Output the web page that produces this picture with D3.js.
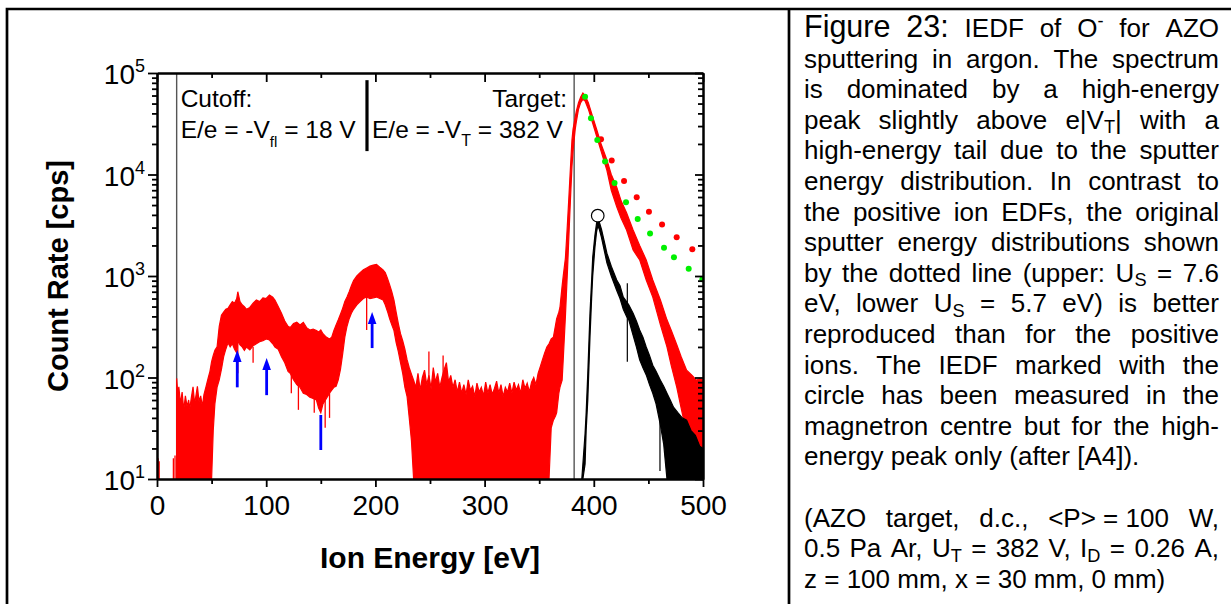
<!DOCTYPE html>
<html>
<head>
<meta charset="utf-8">
<script src="https://cdn.jsdelivr.net/npm/d3@7"></script>
<style>
  body { margin: 0; background: #fff; }
  svg { display: block; font-family: "Liberation Sans", Arial, sans-serif; }
  text { white-space: pre; }
</style>
</head>
<body>
<div id="viz"></div>
<script>

// ---- data ----
const xTicks = [0, 100, 200, 300, 400, 500];
const xMinor = [50, 150, 250, 350, 450];
const yDecades = [1e1, 1e2, 1e3, 1e4, 1e5];
const yExp = ["1", "2", "3", "4", "5"];

const cutoffE = 18;
const targetE = 382;

// red IEDF (O- in argon): energy [eV], lower and upper edge of the noisy band [cps]
const redE = [18, 19, 20, 21.5, 23, 24.5, 26, 27.5, 29, 30, 31.5, 33, 34.5, 36, 37, 38.5, 40, 41.5, 43, 45, 47, 48.5, 50,
  51.5, 53, 55, 57, 59, 61, 63, 65, 67, 69, 71, 73, 74, 76, 78, 80, 82, 85, 88, 91, 94, 97, 100, 103, 106, 108, 111, 114,
  117, 120, 122, 125, 128, 131, 134, 137, 140, 143, 146, 148, 150, 152, 155, 158, 160, 162, 164, 166, 168, 170, 172, 174,
  176, 178, 180, 183, 186, 189, 192, 195, 198, 201, 204, 207, 209, 211, 213, 215, 217, 219, 221, 223, 225, 227, 229, 231,
  233, 235, 237, 239, 241, 243, 245, 247, 249, 251, 253, 255, 257, 259, 261, 263, 265, 267, 269, 271, 273, 275, 277, 279,
  281, 283, 285, 287, 289, 291, 293, 295, 297, 299, 301, 303, 305, 307, 309, 311, 313, 315, 317, 319, 321, 323, 325, 327,
  329, 331, 333, 335, 337, 339, 341, 343, 345, 347, 349, 351, 353, 355, 357, 359, 361, 363, 365, 366, 368, 369, 371, 372,
  374, 375, 376, 377, 378, 379, 380, 381, 382, 383, 384, 386, 388, 390, 392, 395, 399, 403, 407, 412, 416, 421, 425, 430,
  436, 442, 448, 454, 461, 467, 471, 476, 480, 485, 490, 494, 497, 500];
const redLo = [10, 10, 10, 10, 10, 10, 10, 10, 10, 10, 10, 10, 10, 10, 10, 10, 10, 10, 10, 10, 10, 10, 10,
  30, 55, 80, 95, 120, 160, 190, 220, 200, 215, 190, 175, 230, 210, 200, 185, 200, 187, 205, 215, 225, 230, 240, 234, 215, 200, 190, 160,
  140, 115, 110, 95, 85, 80, 70, 68, 64, 62, 60, 50, 45, 55, 62, 70, 75, 80, 82, 95, 120, 170, 250, 320,
  380, 430, 470, 520, 560, 600, 620, 600, 610, 620, 600, 580, 520, 450, 380, 330, 290, 220, 180, 140, 110, 80, 65, 40,
  24, 10, 10, 10, 10, 10, 10, 10, 10, 10, 10, 10, 10, 10, 10, 10, 10, 10, 10, 10, 10, 10, 10, 10,
  10, 10, 10, 10, 10, 10, 10, 10, 10, 10, 10, 10, 10, 10, 10, 10, 10, 10, 10, 10, 10, 10, 10, 10,
  10, 10, 10, 10, 10, 10, 10, 10, 10, 10, 10, 10, 10, 10, 10, 10, 32, 38, 42, 45, 70, 80, 94, 150,
  400, 700, 1200, 2200, 4000, 7000, 12000, 17000, 22000, 28000, 33000, 44000, 51000, 55000, 53000, 44000, 32000, 23000, 16500, 11000, 7000, 4800, 3700, 2840,
  1800, 1440, 914, 620, 330, 200, 130, 80, 50, 28, 18, 14, 10, 10];
const redHi = [98, 70, 81, 55, 72, 48, 66, 52, 60, 49, 64, 81, 55, 70, 82, 58, 66, 52, 68, 82, 100, 115, 143,
  165, 185, 200, 320, 410, 440, 470, 480, 520, 560, 540, 600, 700, 560, 520, 500, 470, 490, 540, 580, 560, 610, 600, 650, 620, 580, 500, 430,
  360, 320, 310, 340, 350, 330, 350, 310, 294, 300, 290, 280, 294, 270, 250, 240, 250, 290, 330, 370, 420, 480, 560, 620,
  700, 800, 900, 1000, 1080, 1150, 1200, 1250, 1280, 1300, 1220, 1150, 1080, 950, 820, 700, 580, 440, 340, 270, 230, 190, 150, 125,
  108, 94, 80, 110, 75, 100, 118, 85, 105, 78, 125, 90, 110, 80, 100, 120, 140, 90, 105, 80, 95, 72, 90, 70,
  85, 68, 95, 75, 82, 65, 88, 72, 80, 66, 90, 70, 85, 68, 78, 92, 70, 85, 65, 80, 72, 88, 70, 90,
  75, 85, 70, 95, 78, 88, 72, 90, 100, 85, 110, 128, 150, 175, 200, 215, 240, 250, 330, 380, 440, 490, 800, 1000,
  1500, 2260, 3500, 5500, 8800, 14000, 21900, 28000, 32000, 37000, 42000, 51000, 58000, 63500, 60000, 51000, 37000, 27000, 19500, 13900, 10000, 7500, 5500, 4200,
  2840, 2000, 1440, 914, 580, 370, 290, 210, 160, 118, 105, 94, 98, 94];
// isolated red spikes: energy, from, to [cps]
const redSpikeE = [1, 2, 15, 16.5, 74, 88, 123, 129.5, 144, 154, 158, 192, 249, 262];
const redSpikeLo = [10, 10, 10, 10, 110, 140, 70, 48, 45, 32, 40, 294, 10, 10];
const redSpikeHi = [16, 15, 16, 17, 250, 200, 120, 90, 70, 60, 70, 620, 180, 165];

// black IEDF (magnetron centre, high-energy peak only)
const blackE = [389, 390, 392, 393, 394.5, 396.5, 398, 399, 401, 402.5, 403.6, 405, 407, 410, 412, 416, 421, 424, 427, 430,
  432, 436, 439, 442, 445, 448, 451, 454, 457, 461, 464, 467, 470, 473, 477, 481, 485, 489, 493, 497, 500];
const blackLo = [10, 10, 14, 30, 60, 250, 600, 1000, 1900, 2700, 3100, 2900, 2400, 1700, 1350, 1000, 720, 600, 470, 400,
  370, 260, 200, 149, 125, 106, 85, 70, 55, 34, 22, 10, 10, 10, 10, 10, 10, 10, 10, 10, 10];
const blackHi = [10, 14, 28, 45, 110, 430, 900, 1530, 2500, 3300, 3700, 3400, 2900, 2100, 1680, 1250, 914, 800, 620, 560,
  520, 430, 360, 294, 250, 200, 165, 132, 115, 94, 82, 70, 60, 51, 45, 40, 38, 30, 27, 21, 20];
const blackSpikeE = [430.7, 460.6];
const blackSpikeLo = [143, 12];
const blackSpikeHi = [847, 94];

// sputter energy distributions (dotted)
const upperUsE = [406.6, 416.4, 427.7, 439.3, 450.5, 462.5, 475.9, 490.2];   // US = 7.6 eV
const upperUsV = [22200, 13700, 8630, 5960, 4300, 3220, 2410, 1830];
const lowerUsE = [392.0, 397.4, 403.2, 410.3, 419.0, 429.5, 440.2, 451.5, 464.3, 473.4, 486.9, 499.4]; // US = 5.7 eV
const lowerUsV = [58400, 35800, 21900, 13400, 8250, 5320, 3650, 2620, 1900, 1530, 1180, 927];

const circleE = 403.6, circleV = 3930;

// blue markers
const arrowE = [73.5, 100.4, 197];
const arrowFrom = [80, 67, 195];
const arrowTo = [187, 156, 442];
const barE = 150, barFrom = 19.3, barTo = 42.7;

// caption, one entry per printed line
const captionLines = [
  ["!Figure", "!23:", "IEDF", "of", "O^{-}", "for", "AZO"],
  ["sputtering", "in", "argon.", "The", "spectrum"],
  ["is", "dominated", "by", "a", "high-energy"],
  ["peak", "slightly", "above", "e|V_{T}|", "with", "a"],
  ["high-energy", "tail", "due", "to", "the", "sputter"],
  ["energy", "distribution.", "In", "contrast", "to"],
  ["the", "positive", "ion", "EDFs,", "the", "original"],
  ["sputter", "energy", "distributions", "shown"],
  ["by", "the", "dotted", "line", "(upper:", "U_{S}", "=", "7.6"],
  ["eV,", "lower", "U_{S}", "=", "5.7", "eV)", "is", "better"],
  ["reproduced", "than", "for", "the", "positive"],
  ["ions.", "The", "IEDF", "marked", "with", "the"],
  ["circle", "has", "been", "measured", "in", "the"],
  ["magnetron", "centre", "but", "for", "the", "high-"],
  ["energy", "peak", "only", "(after", "[A4])."],
  [],
  ["(AZO", "target,", "d.c.,", "<P>\u00a0=\u00a0100", "W,"],
  ["0.5", "Pa", "Ar,", "U_{T}", "=", "382", "V,", "I_{D}", "=", "0.26", "A,"],
  ["z", "=", "100", "mm,", "x", "=", "30", "mm,", "0", "mm)"]
];
const captionJustify = [true, true, true, true, true, true, true, true, true, true, true, true, true, true, false, false, true, true, false];

// ---- layout ----
const W = 1231, H = 604;
const plot = {left: 157, right: 703, top: 73, bottom: 479};
const font = '"Liberation Sans", Arial, sans-serif';

const svg = d3.select("#viz").append("svg")
  .attr("width", W).attr("height", H);

const x = d3.scaleLinear().domain([0, 500]).range([plot.left, plot.right]);
const y = d3.scaleLog().domain([10, 1e5]).range([plot.bottom, plot.top]);

// page frame + divider
svg.append("path").attr("d", `M7,${H}V9H${W}`)
  .attr("fill", "none").attr("stroke", "#000").attr("stroke-width", 2.7);
svg.append("line").attr("x1", 789).attr("x2", 789).attr("y1", 9).attr("y2", H)
  .attr("stroke", "#000").attr("stroke-width", 2.7);

svg.append("clipPath").attr("id", "clip").append("rect")
  .attr("x", plot.left).attr("y", plot.top)
  .attr("width", plot.right - plot.left).attr("height", plot.bottom - plot.top);

const g = svg.append("g").attr("clip-path", "url(#clip)");

// reference lines
[cutoffE, targetE].forEach(e => {
  g.append("line").attr("x1", x(e)).attr("x2", x(e))
    .attr("y1", plot.top).attr("y2", plot.bottom)
    .attr("stroke", "#555").attr("stroke-width", 1.4);
});

const band = d3.area()
  .x(d => x(d.e)).y0(d => y(d.lo)).y1(d => y(d.hi));

const redData = redE.map((e, i) => ({e, lo: redLo[i], hi: redHi[i]}));
const blackData = blackE.map((e, i) => ({e, lo: blackLo[i], hi: blackHi[i]}));

g.append("path").datum(redData).attr("d", band)
  .attr("fill", "#ff0000").attr("stroke", "#ff0000").attr("stroke-width", 1.2);
g.append("g").selectAll("line").data(redSpikeE).join("line")
  .attr("x1", d => x(d)).attr("x2", d => x(d))
  .attr("y1", (d, i) => y(redSpikeLo[i])).attr("y2", (d, i) => y(redSpikeHi[i]))
  .attr("stroke", "#ff0000").attr("stroke-width", 1.3);

g.append("path").datum(blackData).attr("d", band)
  .attr("fill", "#000").attr("stroke", "#000").attr("stroke-width", 1.2);
g.append("g").selectAll("line").data(blackSpikeE).join("line")
  .attr("x1", d => x(d)).attr("x2", d => x(d))
  .attr("y1", (d, i) => y(blackSpikeLo[i])).attr("y2", (d, i) => y(blackSpikeHi[i]))
  .attr("stroke", "#000").attr("stroke-width", 1.2);

// dotted sputter distributions
g.append("g").selectAll("circle").data(upperUsE).join("circle")
  .attr("cx", d => x(d)).attr("cy", (d, i) => y(upperUsV[i]))
  .attr("r", 3).attr("fill", "#ff0000");
g.append("g").selectAll("circle").data(lowerUsE).join("circle")
  .attr("cx", d => x(d)).attr("cy", (d, i) => y(lowerUsV[i]))
  .attr("r", 3).attr("fill", "#00f000");

g.append("circle").attr("cx", x(circleE)).attr("cy", y(circleV)).attr("r", 6.3)
  .attr("fill", "#fff").attr("stroke", "#000").attr("stroke-width", 1.2);

// blue arrows
arrowE.forEach((e, i) => {
  const px = x(e), yt = y(arrowTo[i]), yb = y(arrowFrom[i]);
  g.append("line").attr("x1", px).attr("x2", px).attr("y1", yb).attr("y2", yt + 8)
    .attr("stroke", "#0000ff").attr("stroke-width", 2.8);
  g.append("path").attr("d", `M${px},${yt}L${px - 4.3},${yt + 12}L${px + 4.3},${yt + 12}Z`)
    .attr("fill", "#0000ff");
});
g.append("line").attr("x1", x(barE)).attr("x2", x(barE))
  .attr("y1", y(barFrom)).attr("y2", y(barTo))
  .attr("stroke", "#0000ff").attr("stroke-width", 2.8);

// ---- axes ----
function styleAxis(sel) {
  sel.attr("font-family", font).attr("font-size", 28);
  sel.select(".domain").attr("stroke-width", 2);
  sel.selectAll(".tick line").attr("stroke-width", 1.8);
  sel.selectAll("text").attr("fill", "#000");
}
const yMinor = [];
[10, 100, 1000, 10000].forEach(d => { for (let m = 2; m <= 9; m++) yMinor.push(d * m); });

svg.append("g").attr("transform", `translate(0,${plot.bottom})`)
  .call(d3.axisBottom(x).tickValues(xTicks).tickSize(8).tickPadding(8).tickSizeOuter(0)).call(styleAxis);
svg.append("g").attr("transform", `translate(0,${plot.bottom})`)
  .call(d3.axisBottom(x).tickValues(xMinor).tickSize(5).tickFormat("").tickSizeOuter(0)).call(styleAxis);
svg.append("g").attr("transform", `translate(0,${plot.top})`)
  .call(d3.axisTop(x).tickValues(xTicks).tickSize(-9).tickFormat("").tickSizeOuter(0)).call(styleAxis);
svg.append("g").attr("transform", `translate(0,${plot.top})`)
  .call(d3.axisTop(x).tickValues(xMinor).tickSize(-5).tickFormat("").tickSizeOuter(0)).call(styleAxis);

svg.append("g").attr("transform", `translate(${plot.left},0)`)
  .call(d3.axisLeft(y).tickValues(yDecades).tickSize(9).tickFormat("").tickSizeOuter(0)).call(styleAxis);
svg.append("g").attr("transform", `translate(${plot.left},0)`)
  .call(d3.axisLeft(y).tickValues(yMinor).tickSize(5).tickFormat("").tickSizeOuter(0)).call(styleAxis);
svg.append("g").attr("transform", `translate(${plot.right},0)`)
  .call(d3.axisRight(y).tickValues(yDecades).tickSize(-8).tickFormat("").tickSizeOuter(0)).call(styleAxis);
svg.append("g").attr("transform", `translate(${plot.right},0)`)
  .call(d3.axisRight(y).tickValues(yMinor).tickSize(-5).tickFormat("").tickSizeOuter(0)).call(styleAxis);

// y tick labels 10^n
yDecades.forEach((v, i) => {
  const t = svg.append("text").attr("x", plot.left - 12).attr("y", y(v) + 11)
    .attr("text-anchor", "end").attr("font-family", font).attr("font-size", 28);
  t.append("tspan").text("10");
  t.append("tspan").attr("font-size", 18).attr("dy", -12).text(yExp[i]);
});

// axis titles
svg.append("text").attr("x", (plot.left + plot.right) / 2).attr("y", 568)
  .attr("text-anchor", "middle").attr("font-family", font)
  .attr("font-size", 30).attr("font-weight", "bold").text("Ion Energy [eV]");
svg.append("text")
  .attr("transform", `translate(68,${(plot.top + plot.bottom) / 2}) rotate(-90)`)
  .attr("text-anchor", "middle").attr("font-family", font)
  .attr("font-size", 29).attr("font-weight", "bold").text("Count Rate [cps]");

// ---- rich text helper: _{sub} and ^{sup} ----
function addRich(sel, str, size) {
  const parts = str.split(/(_\{[^}]*\}|\^\{[^}]*\})/).filter(s => s.length);
  let shift = 0;
  parts.forEach(p => {
    const t = sel.append("tspan");
    if (p[0] === "_" || p[0] === "^") {
      const d = p[0] === "_" ? 0.17 * size : -0.4 * size;
      t.attr("font-size", size * 0.7).attr("dy", d - shift).text(p.slice(2, -1));
      shift = d;
    } else {
      t.attr("font-size", size).attr("dy", -shift).text(p);
      shift = 0;
    }
  });
}

// in-plot annotations
const annSize = 24.5;
const sepE = 192.3;
const lineHiV = 46000, lineLoV = 22900;
svg.append("text").attr("x", x(cutoffE) + 4).attr("y", y(lineHiV))
  .attr("font-family", font).attr("font-size", annSize).text("Cutoff:");
{
  const t = svg.append("text").attr("x", x(cutoffE) + 4).attr("y", y(lineLoV))
    .attr("font-family", font);
  t.append("tspan").attr("font-size", annSize).text("E/e = -V");
  t.append("tspan").attr("font-size", 15).attr("dy", 9).text("fl");
  t.append("tspan").attr("font-size", annSize).attr("dy", -9).text(" = 18 V");
}
svg.append("line").attr("x1", x(sepE)).attr("x2", x(sepE))
  .attr("y1", y(85000)).attr("y2", y(17000))
  .attr("stroke", "#000").attr("stroke-width", 3.2);
svg.append("text").attr("x", x(targetE) - 7).attr("y", y(lineHiV))
  .attr("text-anchor", "end").attr("font-family", font).attr("font-size", annSize).text("Target:");
{
  const t = svg.append("text").attr("x", x(sepE) + 5).attr("y", y(lineLoV))
    .attr("font-family", font);
  t.append("tspan").attr("font-size", annSize).text("E/e = -V");
  t.append("tspan").attr("font-size", 16).attr("dy", 8).text("T");
  t.append("tspan").attr("font-size", annSize).attr("dy", -8).text(" = 382 V");
}

// ---- caption (justified block) ----
const capLeft = 804, capRight = 1219, capTop = 37, capStep = 30.6;
const capSize = 26, capBig = 30.5;
captionLines.forEach((words, li) => {
  if (!words.length) return;
  const yy = capTop + li * capStep;
  const items = words.map(w => {
    const big = w[0] === "!";
    const t = svg.append("text").attr("y", yy).attr("font-family", font);
    addRich(t, big ? w.slice(1) : w, big ? capBig : capSize);
    return {t, w: t.node().getComputedTextLength()};
  });
  const total = d3.sum(items, d => d.w);
  const gap = captionJustify[li] && items.length > 1
    ? (capRight - capLeft - total) / (items.length - 1)
    : capSize * 0.278;
  let cx = capLeft;
  items.forEach(d => { d.t.attr("x", cx); cx += d.w + gap; });
});

</script>
</body>
</html>
